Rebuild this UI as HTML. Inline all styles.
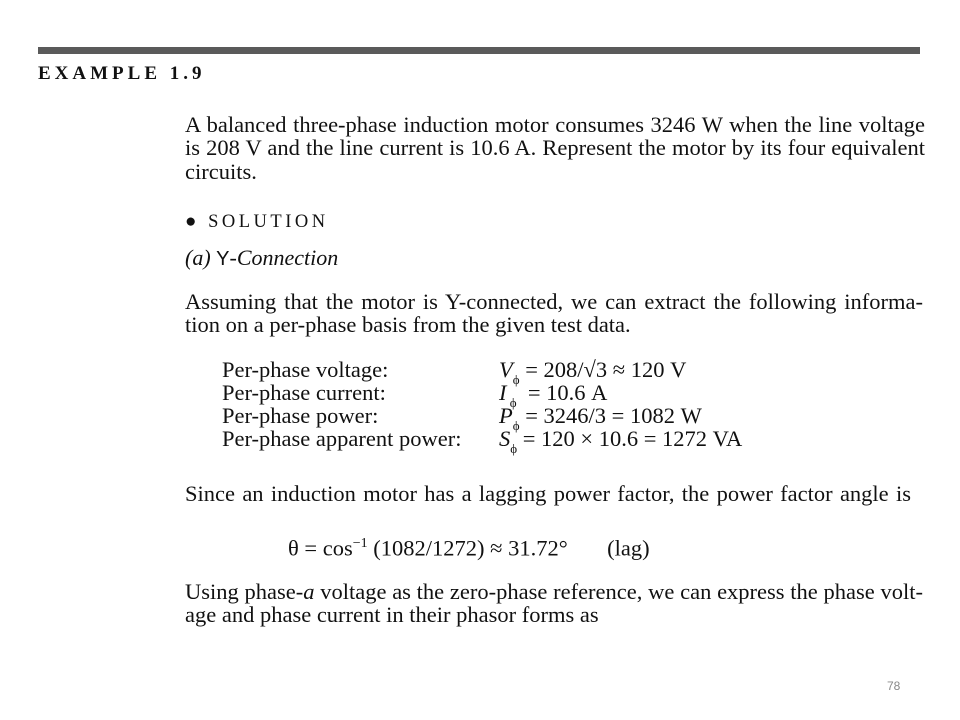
<!DOCTYPE html>
<html><head><meta charset="utf-8"><style>
body{margin:0;background:#fff;}
#p{position:relative;width:960px;height:720px;overflow:hidden;font-family:"Liberation Serif",serif;color:#111;}
.l{position:absolute;left:185px;font-size:22.5px;line-height:24px;white-space:nowrap;}
.j{width:740px;text-align:justify;text-align-last:justify;white-space:normal;}
.s{font-size:13px;vertical-align:-7px;font-style:normal}
</style></head><body><div id="p">
<div style="position:absolute;left:38px;top:47px;width:882px;height:7px;background:#5a5a5a"></div>
<div class="l" style="left:38px;top:62px;font-weight:bold;letter-spacing:4px;font-size:19px">EXAMPLE 1.9</div>
<div class="l j" style="top:113px">A balanced three-phase induction motor consumes 3246 W when the line voltage</div>
<div class="l j" style="top:136px">is 208 V and the line current is 10.6 A. Represent the motor by its four equivalent</div>
<div class="l" style="top:160px">circuits.</div>
<div class="l" style="top:210px;font-size:18.5px;letter-spacing:3.5px"><span style="font-size:19px">●</span> SOLUTION</div>
<div class="l" style="top:246px;font-style:italic;font-size:22px">(a) <span style="font-family:'Liberation Sans',sans-serif;font-style:normal;font-size:20px">Y</span>-Connection</div>
<div class="l j" style="top:290px;width:738px">Assuming that the motor is Y-connected, we can extract the following informa-</div>
<div class="l" style="top:313px">tion on a per-phase basis from the given test data.</div>
<div class="l" style="left:222px;top:358px">Per-phase voltage:</div>
<div class="l" style="left:222px;top:381px">Per-phase current:</div>
<div class="l" style="left:222px;top:404px">Per-phase power:</div>
<div class="l" style="left:222px;top:427px">Per-phase apparent power:</div>
<div class="l" style="left:499px;top:358px"><i>V</i><span class="s">ϕ</span> = 208/√3 ≈ 120 V</div>
<div class="l" style="left:499px;top:381px"><i>I</i><span class="s">&nbsp;ϕ</span>&nbsp; = 10.6 A</div>
<div class="l" style="left:499px;top:404px"><i>P</i><span class="s">ϕ</span> = 3246/3 = 1082 W</div>
<div class="l" style="left:499px;top:427px"><i>S</i><span class="s">ϕ</span> = 120 × 10.6 = 1272 VA</div>
<div class="l j" style="top:482px;width:726px">Since an induction motor has a lagging power factor, the power factor angle is</div>
<div class="l" style="left:288px;top:532px">θ = cos<sup style="font-size:14px">−1</sup> (1082/1272) ≈ 31.72°&nbsp;&nbsp;&nbsp;&nbsp;&nbsp;&nbsp;&nbsp;(lag)</div>
<div class="l j" style="top:580px;width:738px">Using phase-<i>a</i> voltage as the zero-phase reference, we can express the phase volt-</div>
<div class="l" style="top:603px">age and phase current in their phasor forms as</div>
<div style="position:absolute;left:887px;top:679px;font-family:'Liberation Sans',sans-serif;font-size:12px;color:#888">78</div>
</div></body></html>
